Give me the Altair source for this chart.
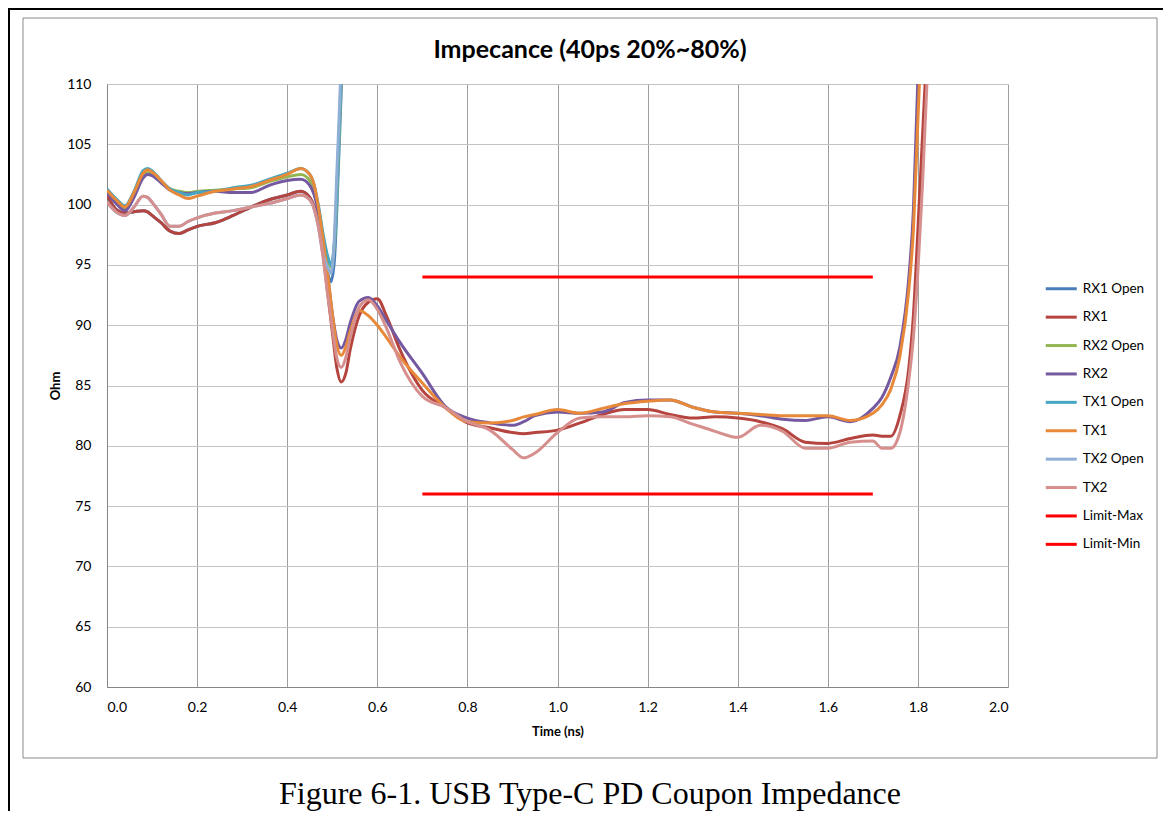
import altair as alt
import pandas as pd

# ---------------- data ----------------
SERIES = ["RX1 Open", "RX1", "RX2 Open", "RX2", "TX1 Open", "TX1", "TX2 Open", "TX2", "Limit-Max", "Limit-Min"]
COLORS = ["#4A7EBB", "#B5443F", "#93B653", "#7559A0", "#45A7C2", "#E8893A", "#8FAFD6", "#D68F8D", "#FF0000", "#FF0000"]

X_TICKS = [0.0, 0.2, 0.4, 0.6, 0.8, 1.0, 1.2, 1.4, 1.6, 1.8, 2.0]
Y_TICKS = [60, 65, 70, 75, 80, 85, 90, 95, 100, 105, 110]

T_MAIN = [0, 0.02, 0.04, 0.06, 0.08, 0.09, 0.10, 0.12, 0.14, 0.16,
          0.18, 0.20, 0.24, 0.28, 0.32, 0.36, 0.40, 0.43, 0.45, 0.46,
          0.47, 0.48, 0.49, 0.50, 0.51, 0.52, 0.53, 0.54, 0.56, 0.58,
          0.60, 0.62, 0.65, 0.70, 0.75, 0.80, 0.85, 0.90, 0.925, 0.95,
          1.0, 1.05, 1.1, 1.15, 1.2, 1.25, 1.3, 1.35, 1.4, 1.45,
          1.5, 1.55, 1.6, 1.65, 1.70, 1.72, 1.74, 1.76, 1.78, 1.79,
          1.80, 1.81, 1.82, 1.83]

RX1 = [100.8, 99.6, 99.3, 99.4, 99.5, 99.4, 99.1, 98.5, 97.8, 97.6,
       97.9, 98.2, 98.5, 99.1, 99.8, 100.4, 100.8, 101.1, 100.6, 99.8,
       98.3, 95.8, 92.6, 89.5, 86.5, 85.3, 86.0, 88.0, 90.8, 91.9,
       92.2, 90.8, 88.0, 84.6, 83.2, 81.9, 81.5, 81.1, 81.0, 81.1,
       81.3, 81.9, 82.6, 83.0, 83.0, 82.6, 82.3, 82.4, 82.3, 82.0,
       81.4, 80.3, 80.2, 80.6, 80.9, 80.8, 80.8, 82.5, 86.5, 90.8,
       97.9, 105.5, 113.0, 120.0]

RX2 = [101.0, 100.1, 99.5, 100.6, 102.2, 102.5, 102.4, 101.8, 101.2, 101.0,
       100.9, 101.0, 101.1, 101.0, 101.0, 101.6, 102.0, 102.1, 101.6, 100.8,
       99.2, 96.8, 94.0, 91.0, 88.8, 88.1, 88.8, 90.2, 92.0, 92.3,
       91.6, 90.4, 88.6, 86.0, 83.3, 82.3, 81.9, 81.7, 82.0, 82.5,
       82.8, 82.7, 82.8, 83.6, 83.8, 83.8, 83.2, 82.8, 82.7, 82.5,
       82.2, 82.1, 82.4, 82.0, 83.1, 84.0, 85.7, 88.2, 94.0, 99.5,
       110.5, 118.0, 125.0, 130.0]

TX1 = [101.2, 100.4, 99.8, 101.0, 102.6, 102.9, 102.7, 102.0, 101.2, 100.8,
       100.5, 100.7, 101.1, 101.3, 101.5, 102.0, 102.5, 103.0, 102.5, 101.6,
       99.6, 97.0, 94.2, 91.0, 88.4, 87.5, 88.2, 89.5, 91.2, 90.8,
       90.0, 89.0, 87.4, 85.2, 83.2, 82.0, 81.9, 82.1, 82.4, 82.6,
       83.0, 82.7, 83.1, 83.5, 83.7, 83.8, 83.2, 82.8, 82.7, 82.6,
       82.5, 82.5, 82.5, 82.1, 82.7, 83.4, 84.7, 87.4, 93.0, 97.9,
       107.0, 116.0, 124.0, 130.0]

TX2 = [100.2, 99.4, 99.1, 99.8, 100.7, 100.6, 100.2, 99.2, 98.2, 98.2,
       98.6, 98.9, 99.3, 99.5, 99.8, 100.1, 100.5, 100.8, 100.4, 99.6,
       98.0, 95.5, 92.5, 89.8, 87.3, 86.5, 87.3, 89.0, 91.5, 92.1,
       91.3, 89.8, 87.0, 84.1, 83.2, 82.0, 81.3, 79.7, 79.0, 79.4,
       81.1, 82.3, 82.4, 82.4, 82.5, 82.4, 81.8, 81.2, 80.7, 81.7,
       81.2, 79.8, 79.8, 80.3, 80.4, 79.8, 79.8, 81.1, 85.5, 89.0,
       94.5, 101.5, 110.0, 117.0]

T_OPEN = [0, 0.02, 0.04, 0.06, 0.08, 0.09, 0.10, 0.12, 0.14, 0.16,
          0.18, 0.20, 0.24, 0.28, 0.32, 0.36, 0.40, 0.43, 0.45, 0.46,
          0.47, 0.48, 0.49, 0.497, 0.505, 0.51, 0.515, 0.52, 0.53]

RX1_OPEN = [100.8, 99.6, 99.3, 99.4, 99.5, 99.4, 99.1, 98.5, 97.8, 97.6,
            97.9, 98.2, 98.5, 99.1, 99.8, 100.4, 100.8, 101.1, 100.6, 99.8,
            98.3, 96.0, 94.3, 93.6, 95.5, 99.5, 104.5, 109.5, 120.0]
RX2_OPEN = [101.1, 100.2, 99.6, 100.8, 102.4, 102.7, 102.6, 101.9, 101.3, 101.1,
            101.0, 101.1, 101.2, 101.3, 101.4, 101.9, 102.3, 102.5, 102.0, 101.2,
            99.5, 97.2, 95.5, 94.8, 96.8, 100.5, 105.5, 110.5, 121.0]
TX1_OPEN = [101.3, 100.5, 99.9, 101.1, 102.8, 103.0, 102.8, 102.0, 101.3, 101.0,
            100.8, 101.0, 101.1, 101.4, 101.6, 102.1, 102.6, 103.0, 102.5, 101.6,
            99.8, 97.5, 95.7, 95.0, 97.0, 101.0, 106.0, 111.0, 122.0]
TX2_OPEN = [100.2, 99.4, 99.1, 99.8, 100.7, 100.6, 100.2, 99.2, 98.2, 98.2,
            98.6, 98.9, 99.3, 99.5, 99.8, 100.1, 100.5, 100.8, 100.4, 99.6,
            98.0, 95.8, 94.8, 94.3, 97.5, 102.5, 107.0, 112.0, 123.0]

LIMIT_T = [0.7, 1.7]
LIMIT_MAX = [94, 94]
LIMIT_MIN = [76, 76]

TITLE = "Impecance (40ps 20%~80%)"
X_TITLE = "Time (ns)"
Y_TITLE = "Ohm"
CAPTION = "Figure 6-1. USB Type-C PD Coupon Impedance"

# ---------------- build ----------------
series_data = [
    ("RX1 Open", T_OPEN, RX1_OPEN),
    ("RX1", T_MAIN, RX1),
    ("RX2 Open", T_OPEN, RX2_OPEN),
    ("RX2", T_MAIN, RX2),
    ("TX1 Open", T_OPEN, TX1_OPEN),
    ("TX1", T_MAIN, TX1),
    ("TX2 Open", T_OPEN, TX2_OPEN),
    ("TX2", T_MAIN, TX2),
    ("Limit-Max", LIMIT_T, LIMIT_MAX),
    ("Limit-Min", LIMIT_T, LIMIT_MIN),
]

FONT = "Lato"
W, H = 901, 603

x_enc = alt.X("t:Q", scale=alt.Scale(domain=[0, 2], nice=False),
              axis=alt.Axis(values=X_TICKS, format=".1f", title=X_TITLE, ticks=False,
                            labelPadding=13, labelFontSize=14, labelFont=FONT, labelColor="#000",
                            titleFont=FONT, titleFontSize=13, titleFontWeight="bold", titleColor="#000",
                            titleY=48, titleBaseline="alphabetic",
                            gridColor="#9e9e9e", gridWidth=1, domainColor="#868686"))
y_enc = alt.Y("v:Q", scale=alt.Scale(domain=[60, 110], nice=False),
              axis=alt.Axis(values=Y_TICKS, title=Y_TITLE, ticks=False,
                            labelPadding=16, labelFontSize=14, labelFont=FONT, labelColor="#000",
                            titleFont=FONT, titleFontSize=13, titleFontWeight="bold", titleColor="#000",
                            titleX=-48, titleBaseline="alphabetic",
                            gridColor="#c4c4c4", gridWidth=1, domainColor="#868686"))
color_enc = alt.Color("series:N",
                      scale=alt.Scale(domain=SERIES, range=COLORS),
                      legend=alt.Legend(title=None, orient="none", legendX=944.75, legendY=195.25,
                                        symbolType="M-2,0H2", symbolSize=240, symbolStrokeWidth=3,
                                        rowPadding=12.4, labelOffset=12, padding=0,
                                        labelFont=FONT, labelFontSize=13.5, labelColor="#000"))

layers = []

# decorative frames
frame_df = pd.DataFrame({"k": [0]})
layers.append(alt.Chart(frame_df).mark_rect(fillOpacity=0, stroke="#000000", strokeWidth=2).encode(
    x=alt.value(-98), x2=alt.value(3000), y=alt.value(-75), y2=alt.value(3000)))
layers.append(alt.Chart(frame_df).mark_rect(fillOpacity=0, stroke="#8a8a8a", strokeWidth=1).encode(
    x=alt.value(-84), x2=alt.value(1050), y=alt.value(-66), y2=alt.value(674)))

for name, ts, vs in series_data:
    df = pd.DataFrame({"t": ts, "v": vs, "series": name})
    is_limit = name.startswith("Limit")
    layers.append(alt.Chart(df).mark_line(
        clip=True, strokeWidth=3,
        interpolate="linear" if is_limit else "monotone").encode(
        x=x_enc, y=y_enc, color=color_enc))

title_df = pd.DataFrame({"txt": [TITLE]})
layers.append(alt.Chart(title_df).mark_text(font=FONT, fontSize=25, fontWeight="bold", color="#000",
                                            align="center", baseline="alphabetic").encode(
    x=alt.value(483), y=alt.value(-26), text="txt:N"))
cap_df = pd.DataFrame({"txt": [CAPTION]})
layers.append(alt.Chart(cap_df).mark_text(font="Liberation Serif", fontSize=32, color="#000",
                                          align="center", baseline="alphabetic").encode(
    x=alt.value(483), y=alt.value(720), text="txt:N"))

chart = alt.layer(*layers).properties(
    width=W, height=H,
    autosize=alt.AutoSizeParams(type="none"),
    padding={"left": 99, "top": 76, "right": 155, "bottom": 124},
    background="white",
).configure_view(stroke=None)

chart.save("out.html", embed_options={"renderer": "svg", "actions": False})
